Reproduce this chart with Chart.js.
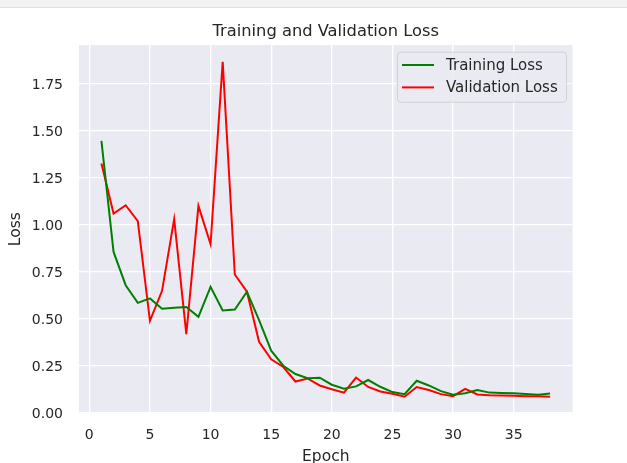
<!DOCTYPE html>
<html>
<head>
<meta charset="utf-8">
<script src="https://cdn.jsdelivr.net/npm/chart.js@4.4.0/dist/chart.umd.min.js"></script>
<style>
  html, body { margin: 0; padding: 0; background: #ffffff; }
  #wrap { width: 627px; height: 463px; position: relative; }
</style>
</head>
<body>
<div id="wrap"><canvas id="c" width="627" height="463"></canvas></div>
<script>
const epochs = [1,2,3,4,5,6,7,8,9,10,11,12,13,14,15,16,17,18,19,20,21,22,23,24,25,26,27,28,29,30,31,32,33,34,35,36,37,38];
const trainingLoss = [1.445, 0.855, 0.678, 0.584, 0.608, 0.553, 0.558, 0.562, 0.510, 0.669, 0.544, 0.549, 0.643, 0.492, 0.330, 0.250, 0.206, 0.184, 0.186, 0.149, 0.128, 0.140, 0.174, 0.138, 0.110, 0.099, 0.170, 0.145, 0.115, 0.096, 0.104, 0.121, 0.107, 0.105, 0.103, 0.099, 0.095, 0.102];
const validationLoss = [1.325, 1.059, 1.103, 1.018, 0.489, 0.648, 1.029, 0.418, 1.100, 0.896, 1.865, 0.735, 0.643, 0.377, 0.284, 0.243, 0.166, 0.182, 0.145, 0.125, 0.107, 0.187, 0.137, 0.113, 0.101, 0.085, 0.137, 0.121, 0.099, 0.088, 0.127, 0.097, 0.093, 0.091, 0.090, 0.088, 0.087, 0.085];
const xTicks = [0, 5, 10, 15, 20, 25, 30, 35];
const yTicks = [0, 0.25, 0.5, 0.75, 1.0, 1.25, 1.5, 1.75];
const seriesNames = ['Training Loss', 'Validation Loss'];
const seriesColors = ['#008000', '#ff0000'];
const chartTitle = 'Training and Validation Loss';
const xTitle = 'Epoch';
const yTitle = 'Loss';

const TXT = '#262626';
const FONT = 'DejaVu Sans';

const bgPlugin = {
  id: 'bg',
  beforeDraw(chart) {
    const {ctx, chartArea: a} = chart;
    ctx.save();
    ctx.fillStyle = '#f2f2f2';
    ctx.fillRect(0, 0, chart.width, 7);
    ctx.fillStyle = '#e2e2e2';
    ctx.fillRect(0, 7, chart.width, 1);
    ctx.fillStyle = '#eaeaf2';
    ctx.fillRect(a.left, a.top, a.right - a.left, a.bottom - a.top);
    ctx.restore();
  }
};

const legendPlugin = {
  id: 'mplLegend',
  afterDraw(chart) {
    const {ctx, chartArea: a} = chart;
    const w = 169, h = 50;
    const x = a.right - 6.5 - w, y = a.top + 6.7;
    ctx.save();
    ctx.beginPath();
    if (ctx.roundRect) ctx.roundRect(x + 0.5, y + 0.5, w, h, 3); else ctx.rect(x + 0.5, y + 0.5, w, h);
    ctx.fillStyle = 'rgba(234,234,242,0.8)';
    ctx.fill();
    ctx.strokeStyle = 'rgba(204,204,204,0.8)';
    ctx.lineWidth = 1;
    ctx.stroke();
    ctx.font = '15px "' + FONT + '"';
    ctx.textBaseline = 'middle';
    ctx.textAlign = 'left';
    chart.data.datasets.forEach((ds, i) => {
      const cy = y + 13.3 + i * 22.4;
      ctx.strokeStyle = ds.borderColor;
      ctx.lineWidth = 2;
      ctx.beginPath();
      ctx.moveTo(x + 5, cy);
      ctx.lineTo(x + 37, cy);
      ctx.stroke();
      ctx.fillStyle = TXT;
      ctx.fillText(ds.label, x + 49, cy + 1);
    });
    ctx.restore();
  }
};

new Chart(document.getElementById('c'), {
  type: 'line',
  data: {
    labels: epochs,
    datasets: [
      { label: seriesNames[0], data: epochs.map((e, i) => ({x: e, y: trainingLoss[i]})), borderColor: seriesColors[0], backgroundColor: seriesColors[0], borderWidth: 2, pointRadius: 0, tension: 0, fill: false },
      { label: seriesNames[1], data: epochs.map((e, i) => ({x: e, y: validationLoss[i]})), borderColor: seriesColors[1], backgroundColor: seriesColors[1], borderWidth: 2, pointRadius: 0, tension: 0, fill: false }
    ]
  },
  options: {
    responsive: false,
    animation: false,
    devicePixelRatio: 1,
    layout: { padding: { left: 0, right: 54.5, top: 0, bottom: 0 } },
    plugins: {
      legend: { display: false },
      tooltip: { enabled: false },
      title: {
        display: true,
        fullSize: false,
        text: chartTitle,
        color: TXT,
        font: { family: FONT, size: 16.3, weight: 'normal', lineHeight: 1.2 },
        padding: { top: 21.6, bottom: 3.84 }
      }
    },
    scales: {
      x: {
        type: 'linear',
        min: -0.85,
        max: 39.85,
        afterBuildTicks(scale) { scale.ticks = xTicks.map(v => ({value: v})); },
        afterFit(scale) { scale.height = 49.7; },
        border: { display: false },
        grid: { color: '#ffffff', lineWidth: 1.3, drawTicks: false },
        ticks: { color: TXT, font: { family: FONT, size: 14 }, padding: 14, maxRotation: 0, autoSkip: false, callback: v => String(v) },
        title: { display: true, text: xTitle, color: TXT, font: { family: FONT, size: 15.5 }, padding: { top: 0, bottom: -3 } }
      },
      y: {
        type: 'linear',
        min: -0.003,
        max: 1.955,
        afterBuildTicks(scale) { scale.ticks = yTicks.map(v => ({value: v})); },
        afterFit(scale) { scale.width = 79; },
        border: { display: false },
        grid: { color: '#ffffff', lineWidth: 1.3, drawTicks: false },
        ticks: { color: TXT, font: { family: FONT, size: 14 }, padding: 16, labelOffset: 2, autoSkip: false, callback: v => Number(v).toFixed(2) },
        title: { display: true, text: yTitle, color: TXT, font: { family: FONT, size: 15.5 }, padding: { top: 6.5, bottom: 0 } }
      }
    }
  },
  plugins: [bgPlugin, legendPlugin]
});
</script>
</body>
</html>
